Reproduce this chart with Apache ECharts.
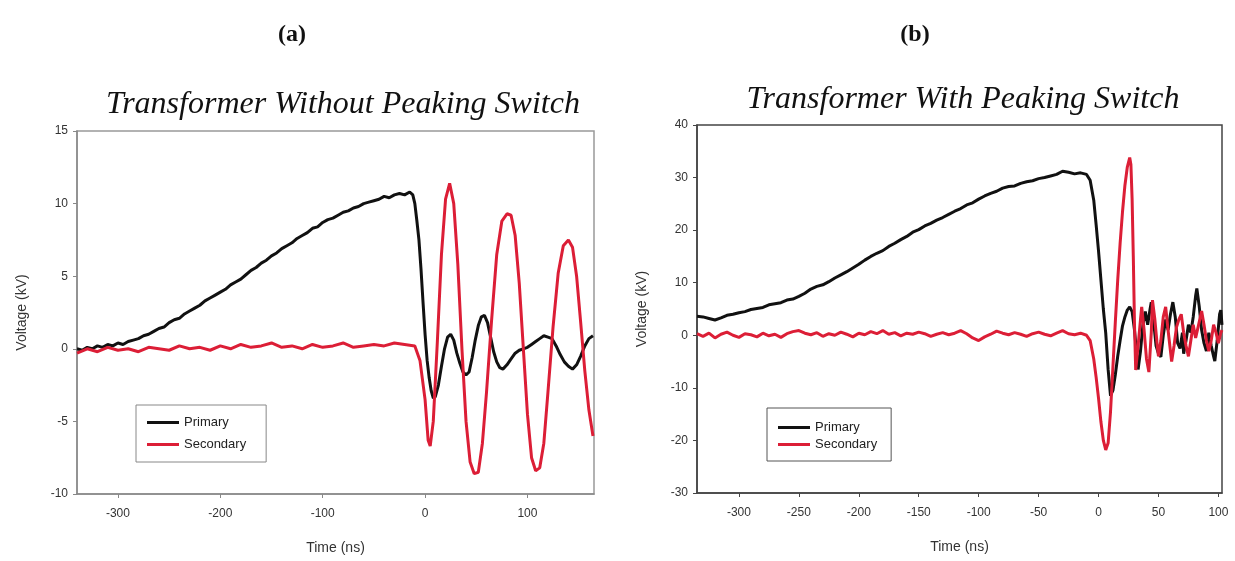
<!DOCTYPE html>
<html>
<head>
<meta charset="utf-8">
<script src="https://cdn.jsdelivr.net/npm/echarts@6/dist/echarts.min.js"></script>
<style>
html,body{margin:0;padding:0;background:#fff;}
#c{width:1235px;height:561px;}
</style>
</head>
<body>
<div id="c"></div>
<script>
// ---------- data ----------
const panelLabels = ['(a)', '(b)'];
const chartTitles = ['Transformer Without Peaking Switch', 'Transformer With Peaking Switch'];
const seriesNames = ['Primary', 'Secondary'];

const xTicksA = [-300, -200, -100, 0, 100];
const xTicksB = [-300, -250, -200, -150, -100, -50, 0, 50, 100];

// (a) primary [time ns, kV]
const aPrimary = [
[-340,0.0],[-335,-0.1],[-330,0.1],[-325,0.0],[-320,0.2],[-315,0.1],[-310,0.3],[-305,0.2],[-300,0.4],[-295,0.3],
[-290,0.5],[-285,0.6],[-280,0.7],[-275,0.9],[-270,1.0],[-265,1.2],[-260,1.4],[-255,1.5],[-250,1.8],[-245,2.0],
[-240,2.1],[-235,2.4],[-230,2.6],[-225,2.8],[-220,3.0],[-215,3.3],[-210,3.5],[-205,3.7],[-200,3.9],[-195,4.1],
[-190,4.4],[-185,4.6],[-180,4.8],[-175,5.1],[-170,5.4],[-165,5.6],[-160,5.9],[-155,6.1],[-150,6.4],[-145,6.6],
[-140,6.9],[-135,7.1],[-130,7.3],[-125,7.6],[-120,7.8],[-115,8.0],[-110,8.3],[-105,8.4],[-100,8.7],[-95,8.9],
[-90,9.0],[-85,9.2],[-80,9.4],[-75,9.5],[-70,9.7],[-65,9.8],[-60,10.0],[-55,10.1],[-50,10.2],[-45,10.3],
[-40,10.5],[-35,10.4],[-30,10.6],[-25,10.7],[-20,10.6],[-15,10.8],[-12,10.6],[-10,10.0],[-8,8.8],[-6,7.5],
[-4,5.5],[-2,3.2],[0,1.0],[2,-0.8],[4,-2.0],[6,-2.9],[8,-3.4],[10,-3.3],[13,-2.5],[16,-1.2],
[19,0.0],[22,0.8],[25,1.0],[28,0.6],[31,-0.3],[34,-1.0],[37,-1.6],[40,-1.8],[43,-1.6],[46,-0.6],
[49,0.6],[52,1.6],[55,2.2],[58,2.3],[61,1.8],[64,0.8],[67,-0.2],[70,-0.9],[73,-1.3],[76,-1.4],
[80,-1.1],[84,-0.7],[88,-0.3],[92,-0.1],[96,0.0],[100,0.1],[104,0.3],[108,0.5],[112,0.7],[116,0.9],
[120,0.8],[124,0.7],[128,0.2],[132,-0.4],[136,-0.9],[140,-1.2],[144,-1.4],[148,-1.1],[152,-0.5],[156,0.2],
[160,0.7],[164,0.9]
];

// (a) secondary
const aSecondary = [
[-340,-0.3],[-330,0.0],[-320,-0.2],[-310,0.1],[-300,-0.1],[-290,0.0],[-280,-0.2],[-270,0.1],[-260,0.0],[-250,-0.1],
[-240,0.2],[-230,0.0],[-220,0.1],[-210,-0.1],[-200,0.2],[-190,0.0],[-180,0.3],[-170,0.1],[-160,0.2],[-150,0.4],
[-140,0.1],[-130,0.2],[-120,0.0],[-110,0.3],[-100,0.1],[-90,0.2],[-80,0.4],[-70,0.1],[-60,0.2],[-50,0.3],
[-40,0.2],[-30,0.4],[-20,0.3],[-10,0.2],[-5,-0.8],[0,-3.5],[3,-6.3],[5,-6.7],[8,-5.0],[12,0.5],
[16,6.5],[20,10.3],[24,11.4],[28,10.0],[32,5.8],[36,0.0],[40,-5.0],[44,-7.8],[48,-8.6],[52,-8.5],
[56,-6.5],[60,-3.0],[65,2.0],[70,6.5],[75,8.8],[80,9.3],[84,9.2],[88,7.8],[92,4.5],[96,0.0],
[100,-4.5],[104,-7.5],[108,-8.4],[112,-8.2],[116,-6.5],[120,-3.0],[125,1.5],[130,5.2],[135,7.1],[140,7.5],
[144,7.0],[148,5.0],[152,1.8],[156,-1.5],[160,-4.2],[164,-6.0]
];

// (b) primary
const bPrimary = [
[-335,3.6],[-330,3.5],[-325,3.2],[-320,2.9],[-315,3.3],[-310,3.8],[-305,4.0],[-300,4.3],[-295,4.5],[-290,4.9],
[-285,5.1],[-280,5.3],[-275,5.8],[-270,6.0],[-265,6.2],[-260,6.7],[-255,6.9],[-250,7.4],[-245,8.0],[-240,8.8],
[-235,9.3],[-230,9.6],[-225,10.2],[-220,10.9],[-215,11.5],[-210,12.1],[-205,12.8],[-200,13.5],[-195,14.3],[-190,15.0],
[-185,15.6],[-180,16.1],[-175,16.9],[-170,17.5],[-165,18.2],[-160,18.8],[-155,19.6],[-150,20.1],[-145,20.8],[-140,21.3],
[-135,21.9],[-130,22.4],[-125,23.0],[-120,23.6],[-115,24.1],[-110,24.8],[-105,25.2],[-100,25.9],[-95,26.5],[-90,27.0],
[-85,27.4],[-80,28.0],[-75,28.3],[-70,28.4],[-65,28.9],[-60,29.2],[-55,29.4],[-50,29.8],[-45,30.0],[-40,30.3],
[-35,30.6],[-30,31.2],[-25,31.0],[-20,30.7],[-15,30.9],[-10,30.6],[-7,29.5],[-4,25.7],[-2,21.0],[0,16.0],
[2,10.5],[4,5.0],[6,0.4],[8,-6.5],[10,-11.5],[12,-10.5],[14,-7.5],[16,-4.0],[18,-1.0],[20,1.8],
[22,3.5],[24,4.8],[26,5.4],[28,4.5],[30,1.0],[32,-4.0],[33,-6.5],[35,-3.0],[37,2.0],[39,4.5],
[41,2.0],[43,5.0],[44,6.3],[46,2.5],[48,-2.0],[50,-3.5],[52,-4.1],[54,0.0],[56,3.0],[58,1.0],
[60,4.0],[62,6.3],[64,3.5],[66,-1.5],[68,-2.5],[70,0.5],[71,-3.5],[73,-1.0],[75,2.0],[77,0.5],
[79,3.5],[81,7.5],[82,8.9],[84,5.5],[86,1.0],[88,-1.5],[90,-3.0],[92,0.5],[94,-2.0],[96,-4.0],
[97,-4.9],[99,-1.0],[101,4.0],[102,4.8],[103,2.0]
];

// (b) secondary
const bSecondary = [
[-335,0.3],[-330,-0.2],[-325,0.4],[-320,-0.5],[-315,0.2],[-310,0.6],[-305,0.0],[-300,-0.4],[-295,0.3],[-290,0.1],
[-285,-0.3],[-280,0.4],[-275,-0.1],[-270,0.2],[-265,-0.4],[-260,0.3],[-255,0.7],[-250,0.9],[-245,0.4],[-240,0.1],
[-235,0.5],[-230,-0.2],[-225,0.3],[-220,0.0],[-215,0.6],[-210,0.2],[-205,-0.3],[-200,0.4],[-195,0.1],[-190,0.7],
[-185,0.3],[-180,0.9],[-175,0.2],[-170,0.5],[-165,-0.1],[-160,0.4],[-155,0.2],[-150,0.6],[-145,0.3],[-140,-0.2],
[-135,0.2],[-130,0.5],[-125,0.1],[-120,0.4],[-115,0.9],[-110,0.3],[-105,-0.5],[-100,-1.0],[-95,-0.3],[-90,0.2],
[-85,0.8],[-80,0.4],[-75,0.1],[-70,0.5],[-65,0.2],[-60,-0.2],[-55,0.3],[-50,0.6],[-45,0.2],[-40,-0.1],
[-35,0.4],[-30,0.9],[-25,0.3],[-20,0.1],[-15,0.4],[-10,0.0],[-7,-1.0],[-4,-4.5],[-2,-8.0],[0,-12.0],
[2,-16.5],[4,-20.0],[6,-21.8],[8,-20.5],[10,-14.5],[12,-6.0],[14,2.5],[16,10.5],[18,17.5],[20,23.5],
[22,28.5],[24,32.0],[26,33.8],[27,32.5],[28,26.0],[29,15.0],[30,2.0],[31,-6.6],[33,-2.0],[35,3.0],
[36,5.4],[38,1.0],[40,-4.5],[42,-7.0],[44,0.5],[45,6.7],[47,3.0],[49,-2.0],[50,-4.0],[52,-1.0],
[54,3.5],[56,5.4],[58,1.0],[60,-3.0],[61,-5.0],[63,-2.0],[65,1.5],[67,3.0],[69,4.0],[71,0.5],
[73,-2.0],[75,-4.0],[77,-1.0],[79,2.0],[81,-0.5],[83,1.5],[86,4.6],[88,2.0],[90,-1.0],[92,-3.0],
[94,-1.0],[96,2.0],[98,0.5],[100,-1.5],[102,0.5],[103,1.0]
];

// ---------- chart ----------
const BLACK = '#111111';
const RED = '#dc1e36';
const labelFont = {fontFamily: 'Liberation Sans, Arial, sans-serif', fontSize: 12, color: '#333'};

function xAxisDef(gi, min, max, ticks, axisColor) {
  return {
    type: 'value', gridIndex: gi, min: min, max: max,
    name: 'Time (ns)', nameLocation: 'middle', nameGap: 47,
    nameTextStyle: {fontFamily: 'Liberation Sans, Arial, sans-serif', fontSize: 14, color: '#333'},
    axisLine: {show: true, onZero: false, lineStyle: {color: axisColor, width: 1.5}},
    axisTick: {show: true, length: 4, lineStyle: {color: axisColor}, customValues: ticks},
    axisLabel: Object.assign({margin: 14, customValues: ticks}, labelFont),
    splitLine: {show: false}
  };
}
function yAxisDef(gi, min, max, interval, axisColor) {
  return {
    type: 'value', gridIndex: gi, min: min, max: max, interval: interval,
    name: 'Voltage (kV)', nameLocation: 'middle', nameGap: 48,
    nameTextStyle: {fontFamily: 'Liberation Sans, Arial, sans-serif', fontSize: 14, color: '#333'},
    axisLine: {show: true, onZero: false, lineStyle: {color: axisColor, width: 1.5}},
    axisTick: {show: true, length: 4, lineStyle: {color: axisColor}},
    axisLabel: Object.assign({margin: 9}, labelFont),
    splitLine: {show: false}
  };
}
function lineSeries(name, data, color, gi) {
  return {
    name: name, type: 'line', xAxisIndex: gi, yAxisIndex: gi, data: data,
    showSymbol: false, smooth: false, animation: false,
    lineStyle: {color: color, width: 3}, itemStyle: {color: color}
  };
}
function legendDef(left, top, gap, padding, borderColor) {
  return {
    data: seriesNames, orient: 'vertical', left: left, top: top,
    itemWidth: 32, itemHeight: 3, itemGap: gap, icon: 'rect',
    padding: padding, borderColor: borderColor, borderWidth: 1,
    backgroundColor: '#fff', selectedMode: false,
    textStyle: {fontFamily: 'Liberation Sans, Arial, sans-serif', fontSize: 13, color: '#222'}
  };
}

const chart = echarts.init(document.getElementById('c'), null, {renderer: 'canvas'});
chart.setOption({
  animation: false,
  backgroundColor: '#fff',
  title: [
    {text: panelLabels[0], left: 287, top: 30, textAlign: 'center', textVerticalAlign: 'middle',
     textStyle: {fontFamily: 'Liberation Serif, Times New Roman, serif', fontWeight: 'bold', fontSize: 24, color: '#111'}},
    {text: panelLabels[1], left: 910, top: 30, textAlign: 'center', textVerticalAlign: 'middle',
     textStyle: {fontFamily: 'Liberation Serif, Times New Roman, serif', fontWeight: 'bold', fontSize: 24, color: '#111'}},
    {text: chartTitles[0], left: 338, top: 100, textAlign: 'center', textVerticalAlign: 'middle',
     textStyle: {fontFamily: 'Liberation Serif, Times New Roman, serif', fontStyle: 'italic', fontWeight: 'normal', fontSize: 32, color: '#111'}},
    {text: chartTitles[1], left: 958, top: 95, textAlign: 'center', textVerticalAlign: 'middle',
     textStyle: {fontFamily: 'Liberation Serif, Times New Roman, serif', fontStyle: 'italic', fontWeight: 'normal', fontSize: 32, color: '#111'}}
  ],
  grid: [
    {left: 77, right: 641, top: 131, bottom: 67, show: true, borderColor: '#999', borderWidth: 1.5},
    {left: 697, right: 13, top: 125, bottom: 68, show: true, borderColor: '#444', borderWidth: 1.5}
  ],
  xAxis: [
    xAxisDef(0, -340, 165, xTicksA, '#888'),
    xAxisDef(1, -335, 103, xTicksB, '#444')
  ],
  yAxis: [
    yAxisDef(0, -10, 15, 5, '#888'),
    yAxisDef(1, -30, 40, 10, '#444')
  ],
  legend: [
    legendDef(136, 405, 9, [11, 20, 11, 11], '#888'),
    legendDef(767, 408, 4, [13, 14, 10, 11], '#555')
  ],
  series: [
    lineSeries(seriesNames[0], aPrimary, BLACK, 0),
    lineSeries(seriesNames[1], aSecondary, RED, 0),
    lineSeries(seriesNames[0], bPrimary, BLACK, 1),
    lineSeries(seriesNames[1], bSecondary, RED, 1)
  ]
});
</script>
</body>
</html>
